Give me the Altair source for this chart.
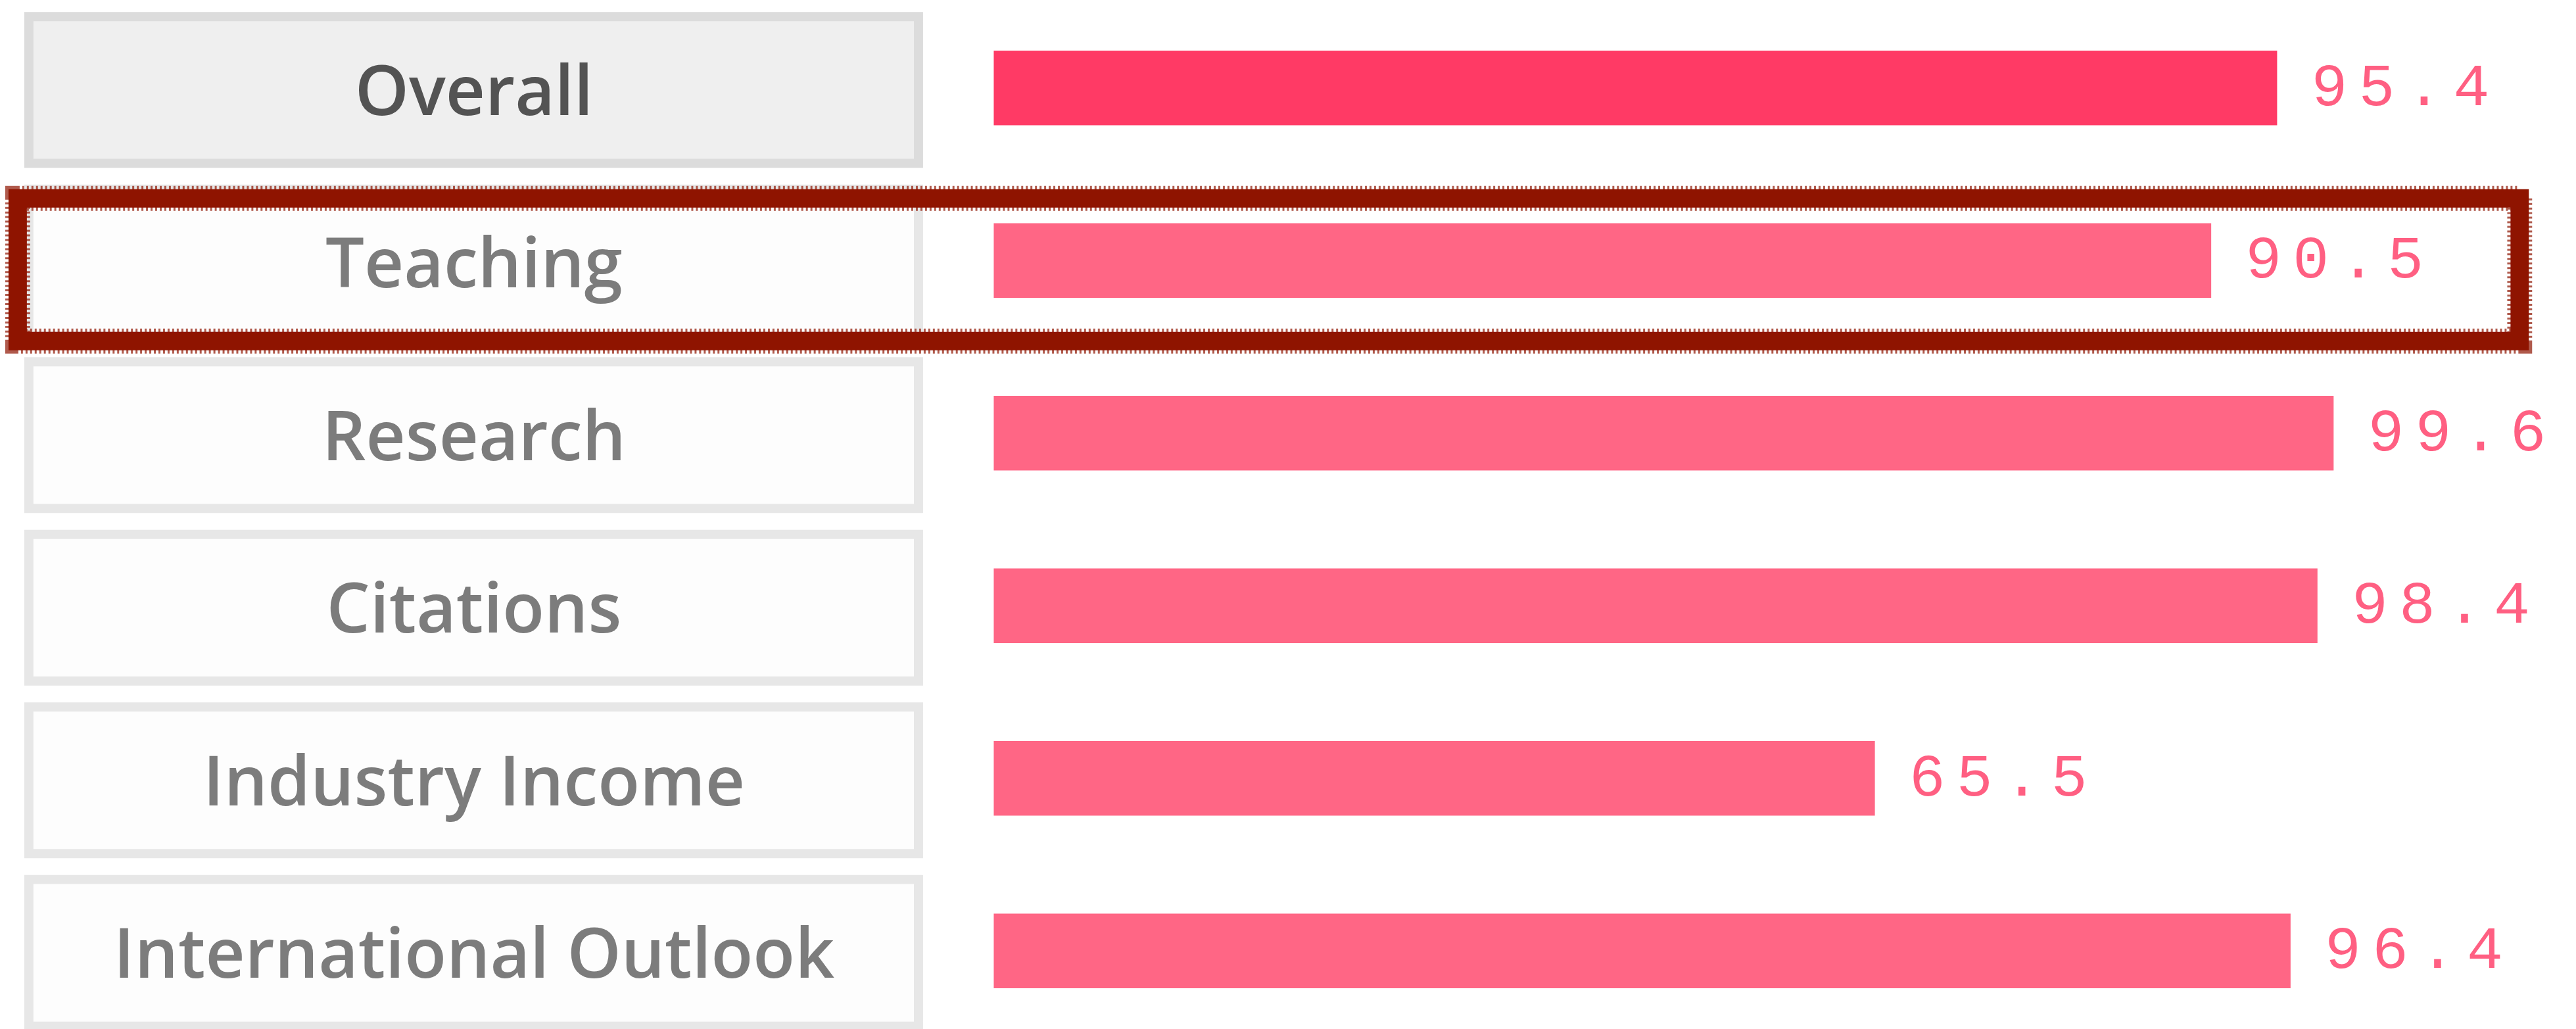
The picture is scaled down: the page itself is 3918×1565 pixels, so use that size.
import altair as alt
import pandas as pd

# ---- data ----
categories = ["Overall", "Teaching", "Research", "Citations",
              "Industry Income", "International Outlook"]
scores = [95.4, 90.5, 99.6, 98.4, 65.5, 96.4]
highlighted = "Teaching"

df = pd.DataFrame({
    "category": categories,
    "score": scores,
    "txt": [f"{s:.1f}" for s in scores],
})

is_overall = alt.datum.category == "Overall"

y_enc = alt.Y(
    "category:N",
    sort=categories,
    scale=alt.Scale(range=[-8.8, 1572.8], paddingInner=0, paddingOuter=0),
    axis=None,
)
x_enc = alt.X(
    "score:Q",
    scale=alt.Scale(domain=[0, 100], range=[1493, 3548]),
    axis=None,
)

base = alt.Chart(df)

# label "buttons"
boxes = base.mark_bar(orient="horizontal", size=224, yOffset=3, strokeWidth=14).encode(
    x=alt.value(19),
    x2=alt.value(1378),
    y=y_enc,
    fill=alt.condition(is_overall, alt.value("#efefef"), alt.value("#fdfdfd")),
    stroke=alt.condition(is_overall, alt.value("#dcdcdc"), alt.value("#e7e7e7")),
)

labels = base.mark_text(
    align="center", baseline="alphabetic", dy=41,
    font="Open Sans", fontSize=105, fontWeight=600,
).encode(
    x=alt.value(699),
    y=y_enc,
    text="category:N",
    color=alt.condition(is_overall, alt.value("#535353"), alt.value("#7c7c7c")),
)

bars = base.mark_bar(orient="horizontal", size=114).encode(
    x=x_enc,
    y=y_enc,
    color=alt.condition(is_overall, alt.value("#ff3a65"), alt.value("#ff6685")),
)

# letter-spaced value labels: one layer per character
value_layers = []
for i in range(4):
    value_layers.append(
        base.transform_calculate(ch=f"substring(datum.txt, {i}, {i + 1})")
        .mark_text(
            align="center", baseline="alphabetic",
            dx=80 + i * 72.3, dy=26,
            font="Liberation Mono", fontSize=92,
        )
        .encode(
            x=x_enc,
            y=y_enc,
            text="ch:N",
            color=alt.value("#ff5f82"),
        )
    )

# hand-drawn highlight around one row
hl = base.transform_filter(alt.datum.category == highlighted)
highlight_core = hl.mark_bar(
    orient="horizontal", size=218, yOffset=14,
    fill="transparent", stroke="#8f1400", strokeWidth=28,
).encode(x=alt.value(2), x2=alt.value(3824), y=y_enc)
highlight_rough = hl.mark_bar(
    orient="horizontal", size=218, yOffset=14,
    fill="transparent", stroke="#8f1400", strokeWidth=38,
    strokeDash=[3, 4], strokeOpacity=0.7,
).encode(x=alt.value(2), x2=alt.value(3824), y=y_enc)

chart = alt.layer(
    boxes, labels, bars, *value_layers, highlight_rough, highlight_core
).properties(
    width=3902, height=1549, padding=0, background="white"
).configure_view(stroke=None)

chart.save("out.html", embed_options={"renderer": "svg", "actions": False})
